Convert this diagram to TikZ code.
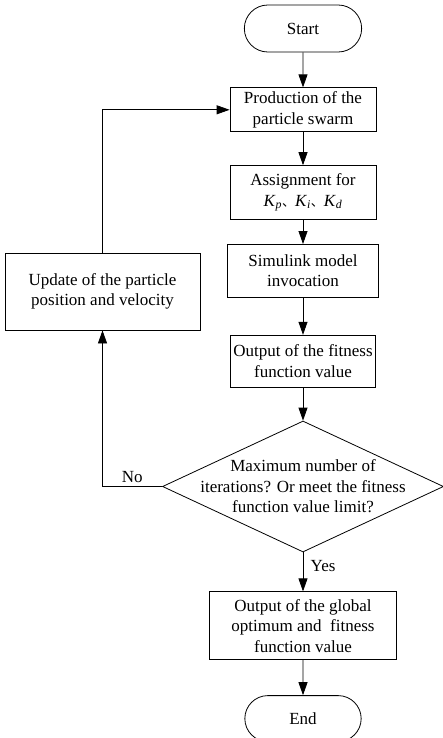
\documentclass[tikz,border=0pt]{standalone}
\usepackage{fontspec}
\setmainfont{Liberation Serif}
\newfontfamily\cjk{Noto Sans CJK SC}
\usetikzlibrary{shapes,arrows.meta,positioning}
\newcommand{\gain}[1]{\textit{K}\textsubscript{\textit{#1}}}

\begin{document}
\begin{tikzpicture}[
    x=1pt, y=-1pt,
    font=\fontsize{17}{20.5}\selectfont,
    startstop/.style={
        rounded rectangle,
        draw,
        line width=0.8pt,
        minimum width=124pt,
        minimum height=47pt
    },
    process/.style={
        rectangle,
        draw,
        line width=0.8pt,
        align=center,
        inner sep=2pt
    },
    decision/.style={
        diamond,
        draw,
        line width=0.8pt,
        align=center,
        aspect=2.14,
        inner sep=-15pt,
        minimum width=281pt,
        minimum height=131pt
    },
    line/.style={draw, line width=0.8pt, -{Triangle[length=13pt,width=9pt]}}
]
\useasboundingbox (0,0) rectangle (443,738);

% Main column
\node [startstop] (start) at (303,28.5) {Start};

\node [process, below=35pt of start, minimum width=146pt, minimum height=44pt] (swarm)
    {Production of the\\particle swarm};

\node [process, below=33pt of swarm, minimum width=146pt, minimum height=54pt] (assign)
    {Assignment for\\\gain{p}{\cjk\fontsize{13}{13}\selectfont 、}\gain{i}{\cjk\fontsize{13}{13}\selectfont 、}\gain{d}};

\node [process, below=24pt of assign, minimum width=151pt, minimum height=53pt] (simulink)
    {Simulink model\\invocation};

\node [process, below=37pt of simulink, minimum width=145pt, minimum height=52pt] (fitness)
    {Output of the fitness\\function value};

\node [decision, below=33pt of fitness] (check)
    {Maximum number of\\iterations? Or meet the fitness\\function value limit?};

\node [process, below=39pt of check, minimum width=187pt, minimum height=68pt] (result)
    {Output of the global\\optimum and\ \ fitness\\function value};

\node [startstop, below=35pt of result, minimum width=123pt, minimum height=46pt] (end) {End};

% Loop back block
\node [process, minimum width=195pt, minimum height=77pt] (update) at (102.5,291.5)
    {Update of the particle\\position and velocity};

% Connections
\draw [line] (start) -- (swarm);
\draw [line] (swarm) -- (assign);
\draw [line] (assign) -- (simulink);
\draw [line] (simulink) -- (fitness);
\draw [line] (fitness) -- (check);
\draw [line] (check) -- node[right, pos=0.36, xshift=4pt] {Yes} (result);
\draw [line] (result) -- (end);
\draw [line] (check.west) -| node[above, pos=0.25] {No} (update.south);
\draw [line] (update.north) |- (swarm.west);

\end{tikzpicture}
\end{document}
